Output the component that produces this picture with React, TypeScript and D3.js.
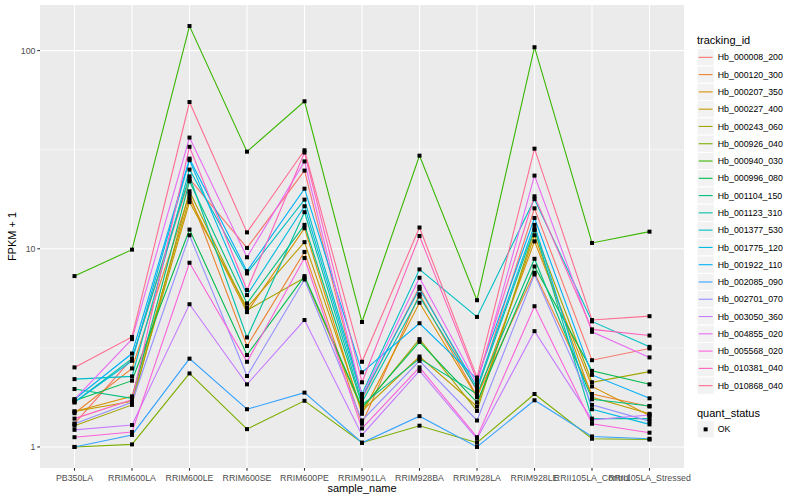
import React from "react";
import * as d3 from "d3";

// sample names (x categories)
const samples = [
  "PB350LA",
  "RRIM600LA",
  "RRIM600LE",
  "RRIM600SE",
  "RRIM600PE",
  "RRIM901LA",
  "RRIM928BA",
  "RRIM928LA",
  "RRIM928LE",
  "RRII105LA_Control",
  "RRII105LA_Stressed",
];

const trackingIds = [
  "Hb_000008_200",
  "Hb_000120_300",
  "Hb_000207_350",
  "Hb_000227_400",
  "Hb_000243_060",
  "Hb_000926_040",
  "Hb_000940_030",
  "Hb_000996_080",
  "Hb_001104_150",
  "Hb_001123_310",
  "Hb_001377_530",
  "Hb_001775_120",
  "Hb_001922_110",
  "Hb_002085_090",
  "Hb_002701_070",
  "Hb_003050_360",
  "Hb_004855_020",
  "Hb_005568_020",
  "Hb_010381_040",
  "Hb_010868_040",
];

// ggplot hue palette, 20 levels
const palette = [
  "#F8766D", "#EA8331", "#D89000", "#C09B00", "#A3A500",
  "#7CAE00", "#39B600", "#00BB4E", "#00BF7D", "#00C1A3",
  "#00BFC4", "#00BAE0", "#00B0F6", "#35A2FF", "#9590FF",
  "#C77CFF", "#E76BF3", "#FA62DB", "#FF62BC", "#FF6C91",
];

// FPKM + 1, one row per tracking id, one column per sample
const fpkm: number[][] = [
  [1.31, 2.79, 22.5, 10.1, 24.8, 1.74, 6.43, 1.92, 16.0, 2.74, 3.14],
  [1.48, 2.49, 18.8, 3.23, 9.64, 1.31, 5.89, 1.8, 7.57, 1.85, 1.6],
  [1.51, 1.8, 18.0, 4.79, 12.7, 1.47, 5.34, 1.78, 10.9, 2.02, 1.44],
  [1.51, 1.7, 17.2, 5.05, 10.8, 1.52, 2.86, 1.6, 11.7, 1.78, 1.47],
  [1.28, 1.63, 19.5, 4.89, 7.14, 1.55, 3.5, 1.52, 12.4, 2.12, 2.4],
  [1.0, 1.03, 2.35, 1.23, 1.71, 1.05, 1.28, 1.05, 1.85, 1.1, 1.09],
  [7.28, 9.9, 133, 30.9, 55.5, 4.27, 29.5, 5.5, 104, 10.7, 12.2],
  [1.71, 2.16, 12.5, 2.91, 7.28, 1.58, 3.39, 1.68, 8.14, 2.42, 2.07],
  [1.96, 1.76, 21.9, 5.3, 13.2, 1.63, 2.79, 1.85, 8.9, 1.74, 1.61],
  [1.68, 2.79, 23.2, 3.57, 15.3, 1.68, 5.74, 1.95, 12.6, 1.39, 1.39],
  [2.2, 2.27, 25.1, 7.51, 17.7, 1.85, 7.87, 4.53, 17.8, 4.3, 3.2],
  [1.68, 2.72, 28.0, 5.84, 16.4, 1.78, 6.28, 2.0, 13.2, 1.55, 1.3],
  [1.74, 2.96, 28.5, 7.71, 20.1, 2.38, 4.21, 2.2, 14.3, 2.31, 1.76],
  [1.0, 1.15, 2.79, 1.55, 1.88, 1.05, 1.43, 1.0, 1.72, 1.13, 1.1],
  [1.31, 1.68, 11.7, 2.28, 7.0, 1.36, 2.72, 1.36, 7.42, 1.63, 1.35],
  [1.22, 1.29, 5.25, 2.07, 4.37, 1.15, 2.42, 1.1, 3.84, 1.37, 1.45],
  [1.74, 3.5, 36.4, 9.06, 27.6, 1.81, 7.14, 2.07, 23.4, 3.81, 2.83],
  [1.12, 1.19, 8.5, 2.69, 8.98, 1.24, 2.52, 1.12, 5.13, 1.31, 1.18],
  [1.39, 1.73, 32.7, 6.19, 30.6, 2.12, 11.6, 2.16, 18.4, 3.92, 3.65],
  [2.52, 3.59, 55.0, 12.1, 31.4, 2.69, 12.8, 2.24, 32.0, 4.37, 4.57],
];

const yTicks = [1, 10, 100];
const yMinor = [Math.pow(10, 0.5), Math.pow(10, 1.5)];
const quantStatus = ["OK"];

const W = 800;
const H = 500;
const panel = { left: 40, right: 684, top: 5, bottom: 468 };
const font = "'Liberation Sans', Arial, Helvetica, sans-serif";

export default function App() {
  const x = d3
    .scalePoint<string>()
    .domain(samples)
    .range([panel.left, panel.right])
    .padding(0.6);

  const all = fpkm.flat();
  const lo = Math.log10(d3.min(all) as number);
  const hi = Math.log10(d3.max(all) as number);
  const pad = (hi - lo) * 0.05;
  const y = d3
    .scaleLog()
    .domain([Math.pow(10, lo - pad), Math.pow(10, hi + pad)])
    .range([panel.bottom, panel.top]);

  const line = d3
    .line<number>()
    .x((_, i) => x(samples[i]) as number)
    .y((d) => y(d));

  const legendX = 697;
  const keySize = 17.28;
  const legendTop = 48.7;

  return (
    <svg
      width={W}
      height={H}
      style={{ position: "absolute", left: 0, top: 0, background: "#fff" }}
      fontFamily={font}
    >
      <rect
        x={panel.left}
        y={panel.top}
        width={panel.right - panel.left}
        height={panel.bottom - panel.top}
        fill="#EBEBEB"
      />
      {yMinor.map((t) => (
        <line
          key={"mn" + t}
          x1={panel.left}
          x2={panel.right}
          y1={y(t)}
          y2={y(t)}
          stroke="#fff"
          strokeWidth={0.55}
        />
      ))}
      {yTicks.map((t) => (
        <line
          key={"mj" + t}
          x1={panel.left}
          x2={panel.right}
          y1={y(t)}
          y2={y(t)}
          stroke="#fff"
          strokeWidth={1.1}
        />
      ))}
      {samples.map((s) => (
        <line
          key={"vx" + s}
          x1={x(s)}
          x2={x(s)}
          y1={panel.top}
          y2={panel.bottom}
          stroke="#fff"
          strokeWidth={1.1}
        />
      ))}

      {fpkm.map((row, i) => (
        <path
          key={"ln" + i}
          d={line(row) as string}
          fill="none"
          stroke={palette[i]}
          strokeWidth={1.1}
        />
      ))}
      {fpkm.map((row, i) =>
        row.map((v, j) => (
          <rect
            key={"pt" + i + "-" + j}
            x={(x(samples[j]) as number) - 2}
            y={y(v) - 2}
            width={4}
            height={4}
            fill="#000"
          />
        ))
      )}

      {/* y axis */}
      {yTicks.map((t) => (
        <g key={"yt" + t}>
          <line
            x1={panel.left - 2.7}
            x2={panel.left}
            y1={y(t)}
            y2={y(t)}
            stroke="#333"
            strokeWidth={1.1}
          />
          <text
            x={panel.left - 4.5}
            y={y(t)}
            dy="0.35em"
            textAnchor="end"
            fontSize={8.8}
            fill="#4D4D4D"
          >
            {d3.format("d")(t)}
          </text>
        </g>
      ))}
      <text
        transform={`translate(16,${(panel.top + panel.bottom) / 2}) rotate(-90)`}
        textAnchor="middle"
        fontSize={11}
        fill="#000"
      >
        FPKM + 1
      </text>

      {/* x axis */}
      {samples.map((s) => (
        <g key={"xt" + s}>
          <line
            x1={x(s)}
            x2={x(s)}
            y1={panel.bottom}
            y2={panel.bottom + 2.7}
            stroke="#333"
            strokeWidth={1.1}
          />
          <text
            x={x(s)}
            y={panel.bottom + 12.5}
            textAnchor="middle"
            fontSize={8.8}
            fill="#4D4D4D"
          >
            {s}
          </text>
        </g>
      ))}
      <text
        x={(panel.left + panel.right) / 2}
        y={492}
        textAnchor="middle"
        fontSize={11}
        fill="#000"
      >
        sample_name
      </text>

      {/* legend: tracking_id */}
      <text x={legendX} y={44} fontSize={11} fill="#000">
        tracking_id
      </text>
      {trackingIds.map((id, i) => {
        const ky = legendTop + i * keySize;
        return (
          <g key={"lg" + id}>
            <rect
              x={legendX}
              y={ky}
              width={keySize}
              height={keySize}
              fill="#F2F2F2"
              stroke="#fff"
              strokeWidth={1}
            />
            <line
              x1={legendX + 1.7}
              x2={legendX + keySize - 1.7}
              y1={ky + keySize / 2}
              y2={ky + keySize / 2}
              stroke={palette[i]}
              strokeWidth={1.1}
            />
            <text
              x={legendX + keySize + 3.5}
              y={ky + keySize / 2}
              dy="0.35em"
              fontSize={8.8}
              fill="#000"
            >
              {id}
            </text>
          </g>
        );
      })}

      {/* legend: quant_status */}
      <text x={legendX} y={416.5} fontSize={11} fill="#000">
        quant_status
      </text>
      {quantStatus.map((q, i) => {
        const ky = 420.7 + i * keySize;
        return (
          <g key={"qs" + q}>
            <rect
              x={legendX}
              y={ky}
              width={keySize}
              height={keySize}
              fill="#F2F2F2"
              stroke="#fff"
              strokeWidth={1}
            />
            <rect
              x={legendX + keySize / 2 - 2}
              y={ky + keySize / 2 - 2}
              width={4}
              height={4}
              fill="#000"
            />
            <text
              x={legendX + keySize + 3.5}
              y={ky + keySize / 2}
              dy="0.35em"
              fontSize={8.8}
              fill="#000"
            >
              {q}
            </text>
          </g>
        );
      })}
    </svg>
  );
}
